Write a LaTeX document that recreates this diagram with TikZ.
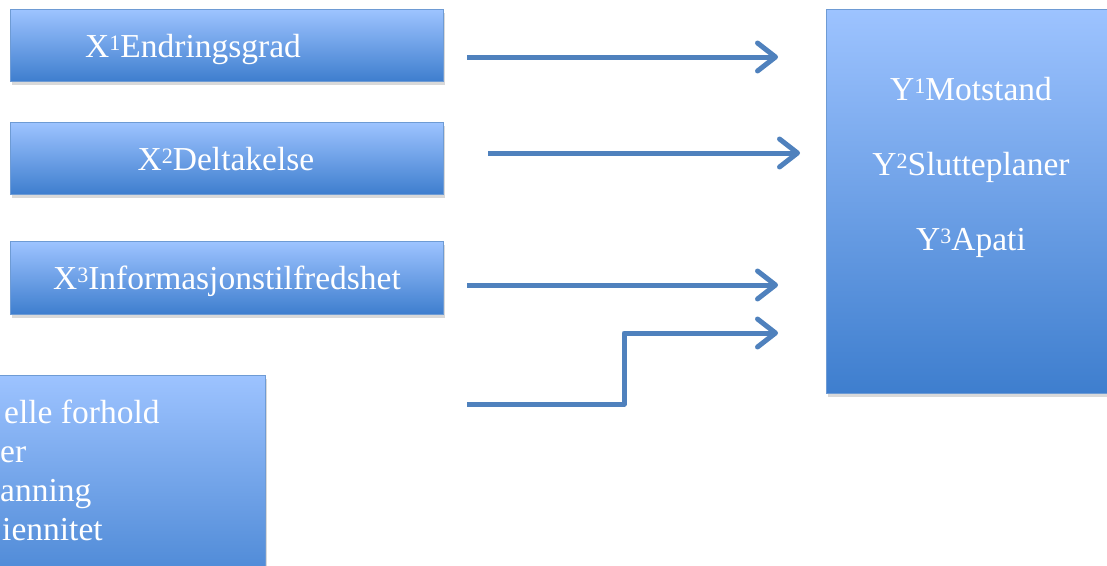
\documentclass[tikz,border=0pt]{standalone}
\usepackage{fontspec}
\setmainfont{Liberation Serif}
\usetikzlibrary{shadows,arrows.meta}
\definecolor{gtop}{HTML}{9DC3FF}
\definecolor{gbot}{HTML}{3E7ECE}
\definecolor{boxedge}{HTML}{6E9BD4}
\definecolor{arrowc}{HTML}{4F81BD}
\newcommand{\upnum}[1]{\raisebox{0.2em}{\fontsize{22}{22}\selectfont #1}}
\tikzset{
  vbox/.style={draw=boxedge, line width=1pt, top color=gtop, bottom color=gbot,
    drop shadow={shadow xshift=1pt, shadow yshift=-3pt, opacity=0.25, fill=black!60},
    inner sep=0pt, anchor=north west},
  lbl/.style={text=white, font=\fontsize{33.5}{40}\selectfont, inner sep=0pt, anchor=base},
  lblw/.style={lbl, anchor=base west},
  conn/.style={draw=arrowc, line width=5pt, line join=round,
    -{Straight Barb[length=18pt, width=28pt, line cap=round, line join=round]}}
}
\begin{document}
\begin{tikzpicture}[x=1pt, y=-1pt]
\useasboundingbox (0,0) rectangle (1107,565);
\clip (0,0) rectangle (1107,565);
% boxes
\node[vbox, minimum width=433pt, minimum height=72pt] (x1) at (10,9) {};
\node[vbox, minimum width=433pt, minimum height=72pt] (x2) at (10,122) {};
\node[vbox, minimum width=433pt, minimum height=73pt] (x3) at (10,241) {};
\node[vbox, minimum width=465pt, minimum height=240pt] (bx) at (-200,375) {};
\node[vbox, minimum width=380pt, minimum height=384pt] (yb) at (826,9) {};
% texts
\node[lblw] (t1) at (85,57) {X\upnum{1}Endringsgrad};
\node[lbl] (t2) at (226,170) {X\upnum{2}Deltakelse};
\node[lbl] (t3) at (227,289) {X\upnum{3}Informasjonstilfredshet};
\node[lbl] (y1) at (971,100) {Y\upnum{1}Motstand};
\node[lbl] (y2) at (971,175) {Y\upnum{2}Slutteplaner};
\node[lbl] (y3) at (971,250) {Y\upnum{3}Apati};
\node[lblw] (b1) at (4,423) {elle forhold};
\node[lblw] (b2) at (0,462) {er};
\node[lblw] (b3) at (0,501) {anning};
\node[lblw] (b4) at (2,540) {iennitet};
% connector ends
\coordinate (s1) at (467,57);  \coordinate (e1) at (778,57);
\coordinate (s2) at (488,153); \coordinate (e2) at (800,153);
\coordinate (s3) at (467,285); \coordinate (e3) at (778,285);
\coordinate (s4) at (467,404); \coordinate (k4) at (624,404);
\coordinate (e4) at (778,333);
\draw[conn] (s1) -- (e1);
\draw[conn] (s2) -- (e2);
\draw[conn] (s3) -- (e3);
\draw[conn] (s4) -- (k4) |- (e4);
\end{tikzpicture}
\end{document}
